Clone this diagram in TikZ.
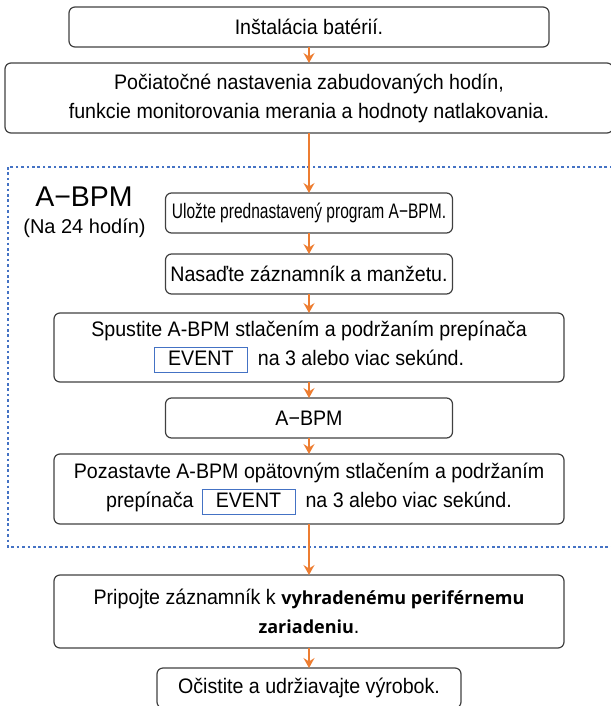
\documentclass[tikz,border=0pt]{standalone}
\usepackage{fontspec}
\setmainfont{Liberation Sans}[FakeStretch=0.935]
\newfontfamily\narrowfont{Liberation Sans}[FakeStretch=0.74]
\newfontfamily\labelfont{Liberation Sans}
\newfontfamily\boldfont{Open Sans}
\usetikzlibrary{positioning,arrows.meta}

\definecolor{arrowor}{HTML}{ED7D31}
\definecolor{zoneblue}{HTML}{4472C4}
\definecolor{boxgray}{HTML}{404040}

\newcommand{\eventkey}{{\setlength{\fboxsep}{0pt}\setlength{\fboxrule}{1pt}%
\fcolorbox{zoneblue}{white}{\makebox[92pt]{\rule[-6.5pt]{0pt}{24pt}EVENT}}}}
\newcommand{\boldword}[1]{{\boldfont\bfseries\fontsize{18}{28}\selectfont #1}}

\begin{document}
\begin{tikzpicture}[
x=1pt,y=1pt,
every node/.style={
align=center,
inner sep=0pt
},
stepbox/.style={
draw=boxgray,
line width=1.2pt,
outer sep=0pt,
rounded corners=6pt,
minimum height=40pt,
font=\fontsize{21}{29}\selectfont
},
flow/.style={->,draw=arrowor,line width=1.5pt},
zone/.style={draw=zoneblue,line width=2pt,dash pattern=on 2.6pt off 2.8pt},
>={Stealth[length=10pt,width=11pt,inset=3.5pt]}
]
\useasboundingbox (0,0) rectangle (610,-706);

\draw[zone] (8,-167) rectangle (616,-547);

\node (zonetitle) at (84,-197)
{\labelfont\fontsize{28.5}{30}\selectfont A−BPM};
\node (zonesub) at (84.5,-228)
{\labelfont\fontsize{20}{24}\selectfont (Na 24 hodín)};

\node[stepbox,minimum width=480pt] (battery) at (309,-27)
{Inštalácia batérií.};

\node[stepbox,minimum width=608pt,minimum height=70pt,below=16pt of battery] (initset)
{Počiatočné nastavenia zabudovaných hodín,\\
funkcie monitorovania merania a hodnoty natlakovania.};

\node[stepbox,minimum width=287pt,below=60pt of initset] (store)
{\narrowfont Uložte prednastavený program A−BPM.};

\node[stepbox,minimum width=287pt,below=21pt of store] (attach)
{Nasaďte záznamník a manžetu.};

\node[stepbox,minimum width=510pt,minimum height=69pt,below=19pt of attach] (start)
{Spustite A-BPM stlačením a podržaním prepínača\\
\eventkey\hspace{10pt}na 3 alebo viac sekúnd.};

\node[stepbox,minimum width=287pt,below=16pt of start] (record)
{A−BPM};

\node[stepbox,minimum width=510pt,minimum height=70pt,below=16pt of record] (pause)
{Pozastavte A-BPM opätovným stlačením a podržaním\\
prepínača\hspace{8pt}\eventkey\hspace{10pt}na 3 alebo viac sekúnd.};

\node[stepbox,minimum width=510pt,minimum height=73pt,below=51pt of pause] (connect)
{Pripojte záznamník k \boldword{vyhradenému periférnemu}\\
\boldword{zariadeniu}.};

\node[stepbox,minimum width=304pt,below=20pt of connect] (clean)
{Očistite a udržiavajte výrobok.};

\draw[flow] (battery)--(initset);
\draw[flow] (initset)--(store);
\draw[flow] (store)--(attach);
\draw[flow] (attach)--(start);
\draw[flow] (start)--(record);
\draw[flow] (record)--(pause);
\draw[flow] (pause)--(connect);
\draw[flow] (connect)--(clean);

\end{tikzpicture}
\end{document}
